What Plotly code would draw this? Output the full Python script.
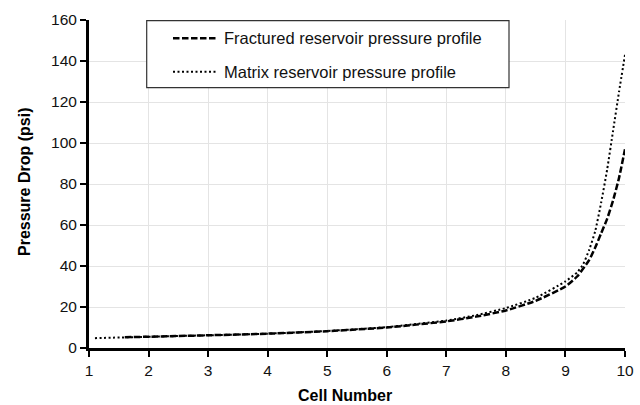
import plotly.graph_objects as go

# Data
frac_x = [1.6, 2, 3, 4, 5, 6, 7, 7.5, 8, 8.5, 9, 9.2, 9.4, 9.5, 9.6, 9.7, 9.8, 9.9, 10]
frac_y = [5.3, 5.5, 6.2, 7.0, 8.2, 10.0, 13.0, 15.3, 18.3, 23.0, 30.0, 35.0, 43.0, 49.0, 56.0, 63.0, 72.0, 83.0, 97.0]

matrix_x = [1.1, 2, 3, 4, 5, 6, 7, 7.5, 8, 8.5, 9, 9.2, 9.3, 9.4, 9.5, 9.6, 9.7, 9.8, 9.9, 10]
matrix_y = [4.8, 5.5, 6.2, 7.0, 8.3, 10.2, 13.4, 16.0, 19.5, 24.5, 32.5, 37.0, 41.0, 48.0, 57.0, 71.0, 87.0, 106.0, 125.0, 143.0]

series_names = ["Fractured reservoir pressure profile", "Matrix reservoir pressure profile"]
x_ticks = [1, 2, 3, 4, 5, 6, 7, 8, 9, 10]
y_ticks = [0, 20, 40, 60, 80, 100, 120, 140, 160]

FONT = "Liberation Sans, Arial, sans-serif"
DASH = "6.5px,2.5px"
DOT = "2px,2.5px"

fig = go.Figure()
fig.add_trace(go.Scatter(x=frac_x, y=frac_y, mode="lines", name=series_names[0],
                         line=dict(color="black", width=2.5, dash=DASH, shape="spline", smoothing=0.5),
                         showlegend=False))
fig.add_trace(go.Scatter(x=matrix_x, y=matrix_y, mode="lines", name=series_names[1],
                         line=dict(color="black", width=2, dash=DOT, shape="spline", smoothing=0.5),
                         showlegend=False))

W, H = 640, 405
# plot area in page pixels: x 89..625, y 20..348
L, R, T, B = 89, 640 - 625, 20, 405 - 348
pw, ph = W - L - R, H - T - B

def px(xp):  # page pixel -> paper
    return (xp - L) / pw

def py(yp):
    return 1 - (yp - T) / ph

# Legend box (manual, to match the reference placement)
fig.add_shape(type="rect", xref="paper", yref="paper",
              x0=px(146.7), x1=px(509), y0=py(87.7), y1=py(20.7),
              line=dict(color="#333333", width=1.2), fillcolor="white", layer="above")
for yp, dash, w, name in [(38.3, DASH, 2.5, series_names[0]), (71.7, DOT, 2, series_names[1])]:
    fig.add_shape(type="line", xref="paper", yref="paper",
                  x0=px(173), x1=px(218), y0=py(yp), y1=py(yp),
                  line=dict(color="black", width=w, dash=dash), layer="above")
    fig.add_annotation(text=name, xref="paper", yref="paper", x=px(222), y=py(yp),
                       xanchor="left", yanchor="middle", showarrow=False,
                       font=dict(family=FONT, size=16.5, color="#111111"))

# Axis titles as annotations (exact placement)
fig.add_annotation(text="<b>Cell Number</b>", xref="paper", yref="paper",
                   x=px(345), y=py(396), xanchor="center", yanchor="middle", showarrow=False,
                   font=dict(family=FONT, size=16, color="black"))
fig.add_annotation(text="<b>Pressure Drop (psi)</b>", xref="paper", yref="paper",
                   x=px(24), y=py(182), xanchor="center", yanchor="middle", showarrow=False,
                   textangle=-90, font=dict(family=FONT, size=16, color="black"))

axis_common = dict(
    showline=True, linecolor="black", linewidth=3,
    ticks="outside", ticklen=6, tickwidth=2, tickcolor="black",
    showgrid=True, gridcolor="#e4e4e4", gridwidth=1,
    zeroline=False, automargin=False,
    tickfont=dict(family=FONT, size=15.5, color="#111111"),
)

fig.update_xaxes(range=[1, 10], tickvals=x_ticks, ticktext=[str(v) for v in x_ticks], **axis_common)
fig.update_yaxes(range=[0, 160], tickvals=y_ticks, ticktext=[str(v) for v in y_ticks], **axis_common)

fig.update_layout(width=W, height=H, margin=dict(l=L, r=R, t=T, b=B),
                  plot_bgcolor="white", paper_bgcolor="white",
                  font=dict(family=FONT), showlegend=False, hovermode=False)

# remove the default page margin so the 640x405 figure fills the window exactly
fig.write_html("out.html", config={"displayModeBar": False, "staticPlot": True},
               post_script="document.body.style.margin='0';document.body.style.overflow='hidden';")
